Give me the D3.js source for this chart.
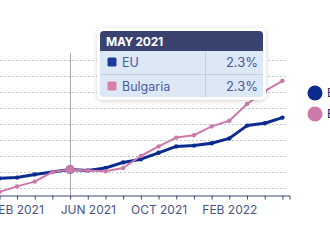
<!DOCTYPE html>
<html>
<head>
<meta charset="utf-8">
<script src="https://cdn.jsdelivr.net/npm/d3@7"></script>
<style>
  html, body { margin: 0; padding: 0; background: #fff; }
  svg { display: block; font-family: "Inter", "Roboto", sans-serif; }
</style>
</head>
<body>
<svg id="chart" width="330" height="248"></svg>
<script>
const months = ["JAN 2021", "FEB 2021", "MAR 2021", "APR 2021", "MAY 2021", "JUN 2021",
  "JUL 2021", "AUG 2021", "SEP 2021", "OCT 2021", "NOV 2021", "DEC 2021",
  "JAN 2022", "FEB 2022", "MAR 2022", "APR 2022", "MAY 2022"];
const euValues = [1.2, 1.3, 1.7, 2.0, 2.3, 2.2, 2.5, 3.2, 3.6, 4.4, 5.2, 5.3, 5.6, 6.2, 7.8, 8.1, 8.8];
const bgValues = [-0.5, 0.2, 0.8, 2.0, 2.3, 2.2, 2.1, 2.5, 4.0, 5.2, 6.3, 6.6, 7.7, 8.4, 10.5, 12.1, 13.4];
const labelledTicks = ["FEB 2021", "JUN 2021", "OCT 2021", "FEB 2022"];
const gridValues = [0, 2, 4, 6, 8, 10, 12, 14, 16];
const hoverMonth = "MAY 2021";

const series = [
  { name: "EU", values: euValues, color: "#0b2b8f", width: 3 },
  { name: "Bulgaria", values: bgValues, color: "#cc79aa", width: 2 },
];

const svg = d3.select("#chart");

const x = d3.scaleLinear().domain([0, months.length - 1 + 0.4]).range([-0.7, 289.5]);
const y = d3.scaleLinear().domain([0, 16]).range([188, 60]);

// dotted gridlines
svg.append("g")
  .selectAll("line")
  .data(gridValues)
  .join("line")
  .attr("x1", 0)
  .attr("x2", 288)
  .attr("y1", (d) => y(d) + 0.5)
  .attr("y2", (d) => y(d) + 0.5)
  .attr("stroke", "#c4c6d0")
  .attr("stroke-width", 1)
  .attr("stroke-dasharray", "2,2");

// x axis
const axis = svg.append("g")
  .attr("transform", "translate(0,195.5)")
  .call(
    d3.axisBottom(x)
      .tickValues(d3.range(months.length))
      .tickSize(4)
      .tickSizeOuter(4)
      .tickFormat((i) => (labelledTicks.includes(months[i]) ? months[i] : ""))
  );
axis.select(".domain").attr("stroke", "#3d4670");
axis.selectAll(".tick line").attr("stroke", "#3d4670");
axis.selectAll(".tick text")
  .attr("fill", "#4a5582")
  .attr("font-size", "12px")
  .attr("font-family", "Inter, Roboto, sans-serif")
  .attr("dy", "0.95em");

// hover crosshair
const hi = months.indexOf(hoverMonth);
svg.append("line")
  .attr("x1", Math.round(x(hi)) + 0.5)
  .attr("x2", Math.round(x(hi)) + 0.5)
  .attr("y1", 53)
  .attr("y2", 195)
  .attr("stroke", "#a9abb3")
  .attr("stroke-width", 1);

const line = d3.line()
  .x((d, i) => x(i))
  .y((d) => y(d));

series.forEach((s) => {
  svg.append("path")
    .datum(s.values)
    .attr("fill", "none")
    .attr("stroke", s.color)
    .attr("stroke-width", s.width)
    .attr("stroke-linejoin", "round")
    .attr("d", line);

  svg.append("g")
    .selectAll("circle")
    .data(s.values)
    .join("circle")
    .attr("cx", (d, i) => x(i))
    .attr("cy", (d) => y(d))
    .attr("r", (d, i) => (i === hi ? 4.5 : 2.2))
    .attr("fill", s.color);
});

// legend (cut off at the right edge)
const legend = svg.append("g");
series.forEach((s, i) => {
  legend.append("circle")
    .attr("cx", 315)
    .attr("cy", 93 + i * 21)
    .attr("r", 7.5)
    .attr("fill", s.color);
  legend.append("text")
    .attr("x", 327)
    .attr("y", 93 + i * 21)
    .attr("dy", "0.35em")
    .attr("font-size", "12px")
    .attr("fill", "#1d2a6e")
    .text(s.name);
});

// tooltip
const defs = svg.append("defs");
const filter = defs.append("filter").attr("id", "shadow")
  .attr("x", "-20%").attr("y", "-20%").attr("width", "140%").attr("height", "140%");
filter.append("feDropShadow")
  .attr("dx", 0).attr("dy", 1).attr("stdDeviation", 2.5)
  .attr("flood-color", "#000").attr("flood-opacity", 0.18);

const tip = svg.append("g");
tip.append("rect")
  .attr("x", 97).attr("y", 28).attr("width", 169).attr("height", 72)
  .attr("rx", 6).attr("fill", "#fff").attr("filter", "url(#shadow)");
tip.append("rect")
  .attr("x", 100).attr("y", 31).attr("width", 163).attr("height", 66)
  .attr("rx", 4).attr("fill", "#dce8f6");
tip.append("path")
  .attr("d", "M100,51 V35 Q100,31 104,31 H259 Q263,31 263,35 V51 Z")
  .attr("fill", "#3a4370");
tip.append("line")
  .attr("x1", 100).attr("x2", 263).attr("y1", 74.5).attr("y2", 74.5)
  .attr("stroke", "#bfcfe4");
tip.append("line")
  .attr("x1", 205.5).attr("x2", 205.5).attr("y1", 51).attr("y2", 97)
  .attr("stroke", "#bfcfe4");
tip.append("text")
  .attr("x", 106).attr("y", 46)
  .attr("font-size", "12px").attr("font-weight", 700)
  .attr("letter-spacing", "-0.3px")
  .attr("fill", "#fff")
  .text(hoverMonth);

series.forEach((s, i) => {
  const cy = 62 + i * 24;
  tip.append("rect")
    .attr("x", 107.5).attr("y", cy - 4.5).attr("width", 9).attr("height", 9)
    .attr("rx", 1.5)
    .attr("fill", i === 0 ? "#1c3a9c" : "#d680aa");
  tip.append("text")
    .attr("x", 122).attr("y", cy).attr("dy", "0.36em")
    .attr("font-size", "12.5px").attr("fill", "#4a5aa0")
    .text(s.name);
  tip.append("text")
    .attr("x", 258).attr("y", cy + 0.5).attr("dy", "0.36em")
    .attr("text-anchor", "end")
    .attr("font-size", "13px").attr("fill", "#4a5aa0")
    .text(s.values[hi].toFixed(1) + "%");
});
</script>
</body>
</html>
